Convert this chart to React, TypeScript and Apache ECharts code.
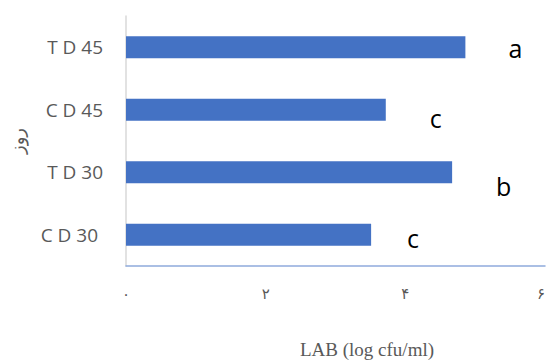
import React, { useEffect, useRef } from "react";
import * as echarts from "echarts";

// Treatments, bottom to top
const categories = ["C D 30", "T D 30", "C D 45", "T D 45"];
// LAB counts (log cfu/ml)
const labValues = [3.51, 4.67, 3.72, 4.86];
// Significance letters shown beside each bar
const groupLetters = ["c", "b", "c", "a"];
// Persian numerals for the value axis
const tickLabels: Record<number, string> = { 0: "۰", 2: "۲", 4: "۴", 6: "۶" };

const letterOffsets = [
  [36, 3],
  [44, 14],
  [44, 8],
  [43, 1],
];

export default function App() {
  const ref = useRef<HTMLDivElement>(null);

  useEffect(() => {
    if (!ref.current) return;
    const chart = echarts.init(ref.current, undefined, { renderer: "svg" });
    chart.setOption({
      animation: false,
      backgroundColor: "#ffffff",
      grid: { left: 120, right: 3, top: 16, bottom: 98, containLabel: false },
      xAxis: {
        type: "value",
        min: 0,
        max: 6,
        interval: 2,
        splitLine: { show: false },
        axisLine: { show: true, lineStyle: { color: "#8faadc", width: 1.5 } },
        axisTick: { show: false },
        axisLabel: {
          formatter: (v: number) => tickLabels[v] ?? "",
          color: "#595959",
          fontFamily: "DejaVu Sans",
          fontSize: 15,
          margin: 20,
          alignMaxLabel: "right",
        },
      },
      yAxis: {
        type: "category",
        data: categories.map((c, i) =>
          i === 0 ? { value: c, textStyle: { padding: [0, 5, 0, 0] } } : c
        ),
        name: "روز",
        nameLocation: "middle",
        nameGap: 100,
        nameRotate: 90,
        nameTextStyle: { color: "#595959", fontSize: 18, fontFamily: "DejaVu Sans" },
        axisLine: { show: true, lineStyle: { color: "#d9d9d9", width: 1.5 } },
        axisTick: { show: false },
        axisLabel: {
          color: "#595959",
          fontSize: 19,
          fontFamily: "Open Sans",
          margin: 23,
        },
      },
      series: [
        {
          type: "bar",
          data: labValues.map((v, i) => ({
            value: v,
            label: { offset: letterOffsets[i] },
          })),
          barWidth: 22,
          itemStyle: { color: "#4472C4" },
          label: {
            show: true,
            position: "right",
            distance: 0,
            formatter: (p: any) => groupLetters[p.dataIndex],
            color: "#000000",
            fontSize: 25,
            fontFamily: "Open Sans",
          },
        },
      ],
      graphic: [
        {
          type: "text",
          left: 300,
          top: 340,
          style: {
            text: "LAB (log cfu/ml)",
            fill: "#595959",
            font: '19px "Liberation Serif"',
            textAlign: "center",
          },
        },
      ],
    });
    return () => chart.dispose();
  }, []);

  return (
    <div
      ref={ref}
      style={{ position: "absolute", left: 0, top: 0, width: 548, height: 364 }}
    />
  );
}
